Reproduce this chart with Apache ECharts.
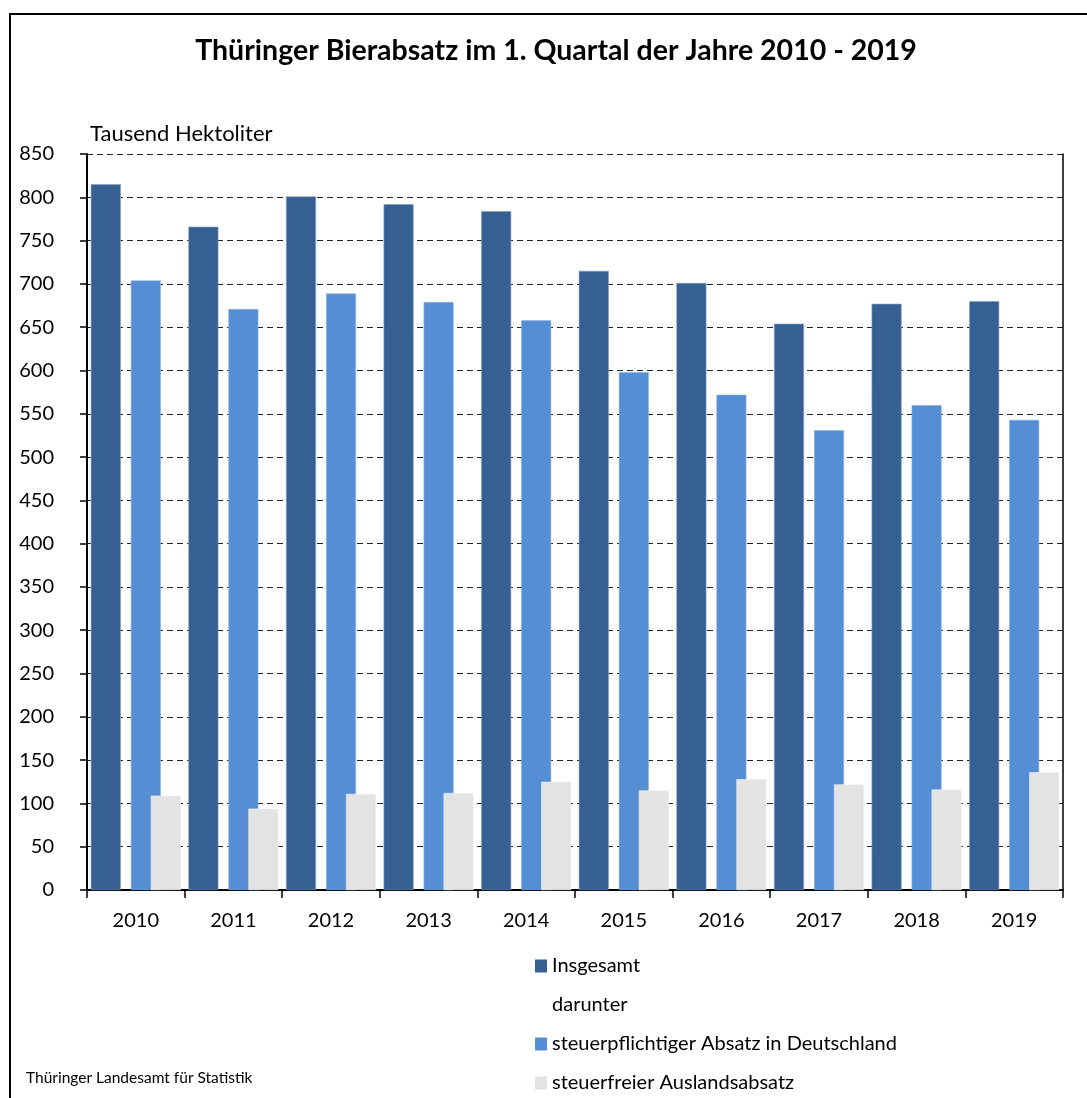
<!DOCTYPE html>
<html>
<head>
<meta charset="utf-8">
<script src="https://cdn.jsdelivr.net/npm/echarts@6/dist/echarts.min.js"></script>
<style>
  html, body { margin: 0; padding: 0; background: #fff; }
  #chart { width: 1087px; height: 1098px; }
</style>
</head>
<body>
<div id="chart"></div>
<script>
var years = ['2010', '2011', '2012', '2013', '2014', '2015', '2016', '2017', '2018', '2019'];
var insgesamt = [815, 766, 801, 792, 784, 715, 701, 654, 677, 680];
var steuerpflichtig = [704, 671, 689, 679, 658, 598, 572, 531, 560, 543];
var auslandsabsatz = [109, 94, 111, 112, 125, 115, 128, 122, 116, 136];

var FONT = 'Lato, "Noto Sans", sans-serif';

window.onload = function () {
    var chart = echarts.init(document.getElementById('chart'), null, { renderer: 'canvas' });

    var option = {
        backgroundColor: '#fff',
        animation: false,
        textStyle: { fontFamily: FONT, color: '#000' },
        graphic: [
            {
                type: 'rect',
                shape: { x: 10, y: 14, width: 1100, height: 1100 },
                style: { fill: 'none', stroke: '#000', lineWidth: 2 },
                silent: true
            },
            {
                type: 'text',
                x: 556, y: 51,
                style: {
                    text: 'Thüringer Bierabsatz im 1. Quartal der Jahre 2010 - 2019',
                    fontFamily: FONT, fontSize: 28.5, fontWeight: 'bold',
                    fill: '#000', align: 'center', verticalAlign: 'middle'
                }
            },
            {
                type: 'text',
                x: 26, y: 1078,
                style: {
                    text: 'Thüringer Landesamt für Statistik',
                    fontFamily: FONT, fontSize: 15.5,
                    fill: '#000', align: 'left', verticalAlign: 'middle'
                }
            }
        ],
        grid: { left: 87, right: 24, top: 154, bottom: 208 },
        legend: {
            orient: 'vertical',
            left: 535, top: 955,
            height: 200,
            padding: 0,
            itemWidth: 12, itemHeight: 13, itemGap: 17,
            icon: 'rect',
            selectedMode: false,
            itemStyle: { borderWidth: 0 },
            textStyle: { fontFamily: FONT, fontSize: 20, color: '#000', lineHeight: 22 },
            data: ['Insgesamt', 'darunter', 'steuerpflichtiger Absatz in Deutschland', 'steuerfreier Auslandsabsatz']
        },
        xAxis: [
            {
                type: 'category',
                data: years,
                axisLine: { lineStyle: { color: '#000', width: 2 } },
                axisTick: { show: true, length: 8, alignWithLabel: false, lineStyle: { color: '#000', width: 1.5 } },
                axisLabel: { fontFamily: FONT, fontSize: 20, color: '#000', margin: 21 }
            },
            {
                type: 'category',
                data: years,
                show: false
            }
        ],
        yAxis: [
            {
                type: 'value',
                min: 0, max: 850, interval: 50,
                name: 'Tausend Hektoliter',
                nameLocation: 'end',
                nameGap: 20,
                nameTextStyle: { fontFamily: FONT, fontSize: 22, color: '#000', align: 'left', verticalAlign: 'middle', padding: [0, 0, 0, 3] },
                axisLine: { show: true, lineStyle: { color: '#000', width: 2 } },
                axisTick: { show: true, length: 7, lineStyle: { color: '#000', width: 1.5 } },
                axisLabel: { fontFamily: FONT, fontSize: 20, color: '#000', margin: 33 },
                splitLine: { show: true, lineStyle: { color: '#222', width: 1, type: [6, 4] } }
            },
            {
                type: 'value',
                min: 0, max: 850, interval: 50,
                position: 'right',
                axisLine: { show: true, lineStyle: { color: '#000', width: 1.5 } },
                axisTick: { show: false },
                axisLabel: { show: false },
                splitLine: { show: false }
            }
        ],
        series: [
            {
                name: 'Insgesamt',
                type: 'bar',
                xAxisIndex: 0,
                barWidth: 30,
                barGap: '100%',
                data: insgesamt,
                itemStyle: { color: '#366092', borderColor: '#7f9cc2', borderWidth: 0.6 },
                z: 2
            },
            {
                name: 'steuerfreier Auslandsabsatz',
                type: 'bar',
                xAxisIndex: 0,
                barWidth: 30,
                barGap: '100%',
                data: auslandsabsatz,
                itemStyle: { color: '#e3e3e3', borderColor: '#f2f2f2', borderWidth: 0.6 },
                z: 4
            },
            {
                // placeholder only: shifts the blue bars right so the grey ones overlap them
                name: 'darunter',
                type: 'bar',
                xAxisIndex: 1,
                barWidth: 30,
                barGap: '-33.333%',
                data: [],
                itemStyle: { color: 'rgba(0,0,0,0)' }
            },
            {
                name: 'steuerpflichtiger Absatz in Deutschland',
                type: 'bar',
                xAxisIndex: 1,
                barWidth: 30,
                barGap: '-33.333%',
                data: steuerpflichtig,
                itemStyle: { color: '#558ed5', borderColor: '#8db3e2', borderWidth: 0.6 },
                z: 3
            }
        ]
    };

    chart.setOption(option);
};
</script>
</body>
</html>
